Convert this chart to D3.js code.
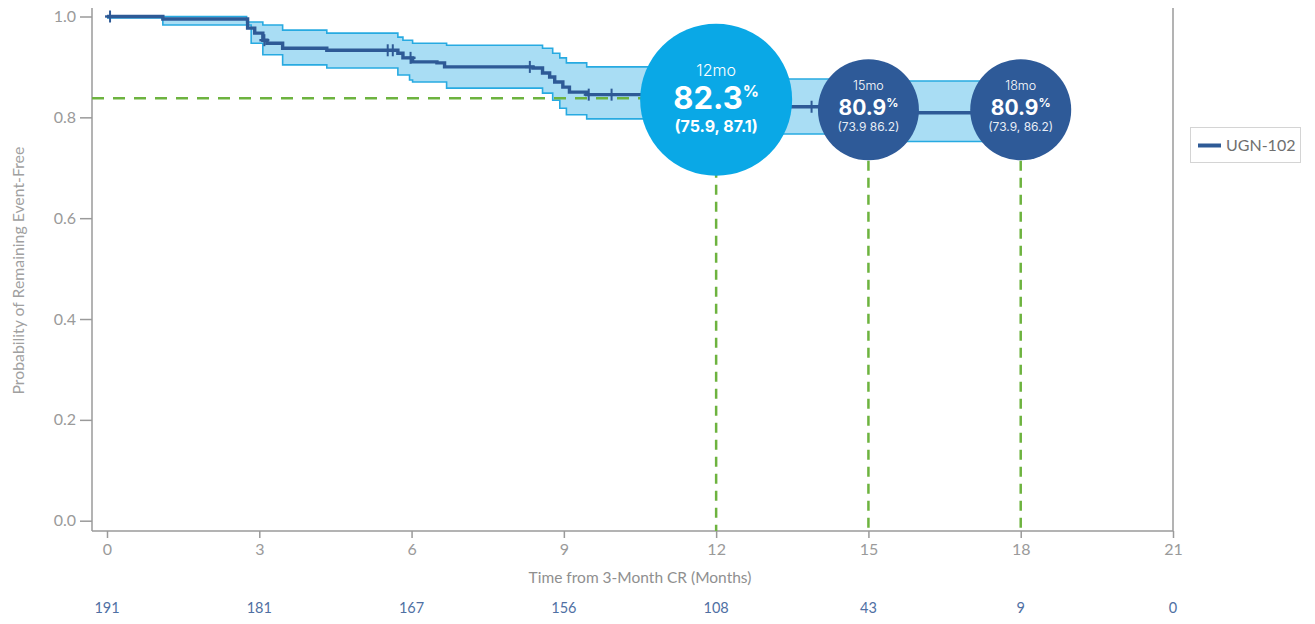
<!DOCTYPE html>
<html>
<head>
<meta charset="utf-8">
<script src="https://cdn.jsdelivr.net/npm/d3@7"></script>
<style>
  html, body { margin: 0; padding: 0; background: #fff; }
  svg { display: block; }
  text { font-family: Lato, "Open Sans", sans-serif; }
</style>
</head>
<body>
<svg id="chart" width="1315" height="624"></svg>
<script>
// ---- data ----
const kmTimes = [0, 1.1, 2.77, 2.91, 3.07, 3.15, 3.46, 4.33, 5.73, 5.83, 6.02, 6.5, 6.65, 8.39, 8.58, 8.72, 8.82, 8.98, 9.11, 9.45, 11.3, 14.6, 18.2];
const kmSurv  = [1.0, 0.995, 0.977, 0.967, 0.953, 0.947, 0.937, 0.933, 0.927, 0.918, 0.910, 0.908, 0.900, 0.898, 0.888, 0.880, 0.870, 0.860, 0.850, 0.845, 0.821, 0.809, 0.809];

const ciTimes = [0, 1.1, 2.75, 2.84, 3.07, 3.46, 4.33, 5.73, 5.83, 5.96, 6.02, 6.69, 8.58, 8.78, 8.92, 9.05, 9.45, 11.3, 14.6, 18.2];
const ciUpper = [1.0, 1.0, 0.989, 0.989, 0.983, 0.973, 0.967, 0.959, 0.953, 0.953, 0.947, 0.943, 0.937, 0.927, 0.918, 0.908, 0.900, 0.876, 0.872, 0.872];
const ciLower = [0.997, 0.983, 0.983, 0.947, 0.924, 0.904, 0.898, 0.884, 0.884, 0.874, 0.870, 0.858, 0.848, 0.834, 0.818, 0.805, 0.797, 0.767, 0.752, 0.752];

const censorTimes = [0.06, 3.1, 5.53, 5.63, 5.98, 8.33, 9.49, 9.94, 13.88];
const censorSurv  = [1.0, 0.953, 0.933, 0.933, 0.918, 0.900, 0.845, 0.845, 0.821];

const xTicks = [0, 3, 6, 9, 12, 15, 18, 21];
const yTicks = [0, 0.2, 0.4, 0.6, 0.8, 1.0];
const atRisk = [191, 181, 167, 156, 108, 43, 9, 0];

const refLine = 0.838;
const milestoneMonths = [12, 15, 18];
const milestoneLabels = ["12mo", "15mo", "18mo"];
const milestoneValues = ["82.3", "80.9", "80.9"];
const milestoneCIs = ["(75.9, 87.1)", "(73.9 86.2)", "(73.9, 86.2)"];
const milestoneCenterY = [0.835, 0.815, 0.815];

const seriesName = "UGN-102";

// ---- layout ----
const svg = d3.select("#chart");
const plotLeft = 92, plotRight = 1173, plotTop = 8, plotBottom = 531;
const x = d3.scaleLinear().domain([0, 21]).range([107, 1173]);
const y = d3.scaleLinear().domain([0, 1]).range([520.7, 16.5]);

const axisColor = "#9a9a9a";
const textGray = "#9a9a9a";
const darkBlue = "#2e5a96";
const bandStroke = "#27aae1";
const bandFill = "#a9ddf4";
const green = "#6db33f";

// axis frame
svg.append("line").attr("x1", plotLeft).attr("x2", plotLeft).attr("y1", plotTop).attr("y2", plotBottom)
  .attr("stroke", axisColor).attr("stroke-width", 1.5);
svg.append("line").attr("x1", plotRight).attr("x2", plotRight).attr("y1", plotTop).attr("y2", plotBottom)
  .attr("stroke", axisColor).attr("stroke-width", 1.5);
svg.append("line").attr("x1", plotLeft).attr("x2", plotRight).attr("y1", plotBottom).attr("y2", plotBottom)
  .attr("stroke", axisColor).attr("stroke-width", 1.5);

// y axis
const yAxis = svg.append("g").attr("transform", `translate(${plotLeft},0)`)
  .call(d3.axisLeft(y).tickValues(yTicks).tickFormat(d3.format(".1f")).tickSize(12).tickPadding(4));
yAxis.select(".domain").remove();
yAxis.selectAll("line").attr("stroke", axisColor).attr("stroke-width", 1.5);
yAxis.selectAll("text").attr("fill", textGray).style("font-size", "16px").style("font-family", "Lato");

// x axis
const xAxis = svg.append("g").attr("transform", `translate(0,${plotBottom})`)
  .call(d3.axisBottom(x).tickValues(xTicks).tickSize(7).tickPadding(6));
xAxis.select(".domain").remove();
xAxis.selectAll("line").attr("stroke", axisColor).attr("stroke-width", 1.5);
xAxis.selectAll("text").attr("fill", textGray).style("font-size", "16px").style("font-family", "Lato");

// axis titles
svg.append("text").attr("x", x(10.5)).attr("y", 583).attr("text-anchor", "middle")
  .attr("fill", "#8f8f8f").style("font-size", "15.5px").text("Time from 3-Month CR (Months)");
svg.append("text").attr("transform", `translate(24,${y(0.5) + 2}) rotate(-90)`)
  .attr("text-anchor", "middle").attr("fill", "#a0a0a0").style("font-size", "15.8px")
  .text("Probability of Remaining Event-Free");

// at risk
svg.append("g").selectAll("text").data(atRisk).join("text")
  .attr("x", (d, i) => x(xTicks[i])).attr("y", 613).attr("text-anchor", "middle")
  .attr("fill", "#4f70a3").style("font-size", "14.5px").text(d => d);

// CI band
const ciData = ciTimes.map((t, i) => ({ t, u: ciUpper[i], l: ciLower[i] }));
svg.append("path").datum(ciData)
  .attr("d", d3.area().curve(d3.curveStepAfter).x(d => x(d.t)).y0(d => y(d.l)).y1(d => y(d.u)))
  .attr("fill", bandFill).attr("stroke", "none");
["u", "l"].forEach(k => {
  svg.append("path").datum(ciData)
    .attr("d", d3.line().curve(d3.curveStepAfter).x(d => x(d.t)).y(d => y(d[k])))
    .attr("fill", "none").attr("stroke", bandStroke).attr("stroke-width", 1.6);
});

// horizontal reference dashed line
svg.append("line").attr("x1", plotLeft).attr("x2", x(12)).attr("y1", y(refLine)).attr("y2", y(refLine))
  .attr("stroke", green).attr("stroke-width", 2.5).attr("stroke-dasharray", "12,9");

// KM line
const kmData = kmTimes.map((t, i) => ({ t, s: kmSurv[i] }));
svg.append("path").datum(kmData)
  .attr("d", d3.line().curve(d3.curveStepAfter).x(d => x(d.t)).y(d => y(d.s)))
  .attr("fill", "none").attr("stroke", darkBlue).attr("stroke-width", 3.4);

// censor marks
const cens = svg.append("g");
censorTimes.forEach((t, i) => {
  cens.append("line").attr("x1", x(t)).attr("x2", x(t)).attr("y1", y(censorSurv[i]) - 6).attr("y2", y(censorSurv[i]) + 6)
    .attr("stroke", darkBlue).attr("stroke-width", 2);
  cens.append("line").attr("x1", x(t) - 5).attr("x2", x(t) + 5).attr("y1", y(censorSurv[i])).attr("y2", y(censorSurv[i]))
    .attr("stroke", darkBlue).attr("stroke-width", 2.4);
});

// vertical dashed lines
milestoneMonths.forEach((m, i) => {
  svg.append("line").attr("x1", x(m)).attr("x2", x(m)).attr("y1", y(milestoneCenterY[i])).attr("y2", plotBottom)
    .attr("stroke", green).attr("stroke-width", 2.5).attr("stroke-dasharray", "10,7");
});

// milestone circles
const circleFont = "Inter, 'Open Sans', sans-serif";
milestoneMonths.forEach((m, i) => {
  const cx = x(m), cy = y(milestoneCenterY[i]);
  const big = i === 0;
  const r = big ? 76 : 50.5;
  const g = svg.append("g");
  g.append("circle").attr("cx", cx).attr("cy", cy).attr("r", r)
    .attr("fill", big ? "#0aa8e6" : "#2e5a98");
  g.append("text").attr("x", cx).attr("y", cy + (big ? -24 : -20)).attr("text-anchor", "middle")
    .attr("fill", "#ffffff").style("font-family", circleFont).style("font-weight", 300)
    .style("font-size", big ? "16px" : "12.5px").text(milestoneLabels[i]);
  const vt = g.append("text").attr("x", cx).attr("y", cy + (big ? 9 : 5)).attr("text-anchor", "middle")
    .attr("fill", "#ffffff").style("font-family", circleFont).style("font-weight", 700);
  vt.append("tspan").style("font-size", big ? "31px" : "21px").text(milestoneValues[i]);
  vt.append("tspan").style("font-size", big ? "16px" : "12px").attr("dy", big ? -12 : -8).text("%");
  g.append("text").attr("x", cx).attr("y", cy + (big ? 32 : 21)).attr("text-anchor", "middle")
    .attr("fill", big ? "#ffffff" : "#e6ecf5").style("font-family", circleFont)
    .style("font-weight", big ? 700 : 400)
    .style("font-size", big ? "16px" : "12px").text(milestoneCIs[i]);
});

// legend
const lg = svg.append("g");
lg.append("rect").attr("x", 1190.5).attr("y", 127.5).attr("width", 110).attr("height", 35)
  .attr("fill", "#fff").attr("stroke", "#d4d4d4").attr("stroke-width", 1);
lg.append("line").attr("x1", 1198).attr("x2", 1221).attr("y1", 145.5).attr("y2", 145.5)
  .attr("stroke", darkBlue).attr("stroke-width", 4);
lg.append("text").attr("x", 1226).attr("y", 151).attr("fill", "#6f6f6f")
  .style("font-size", "16px").text(seriesName);
</script>
</body>
</html>
